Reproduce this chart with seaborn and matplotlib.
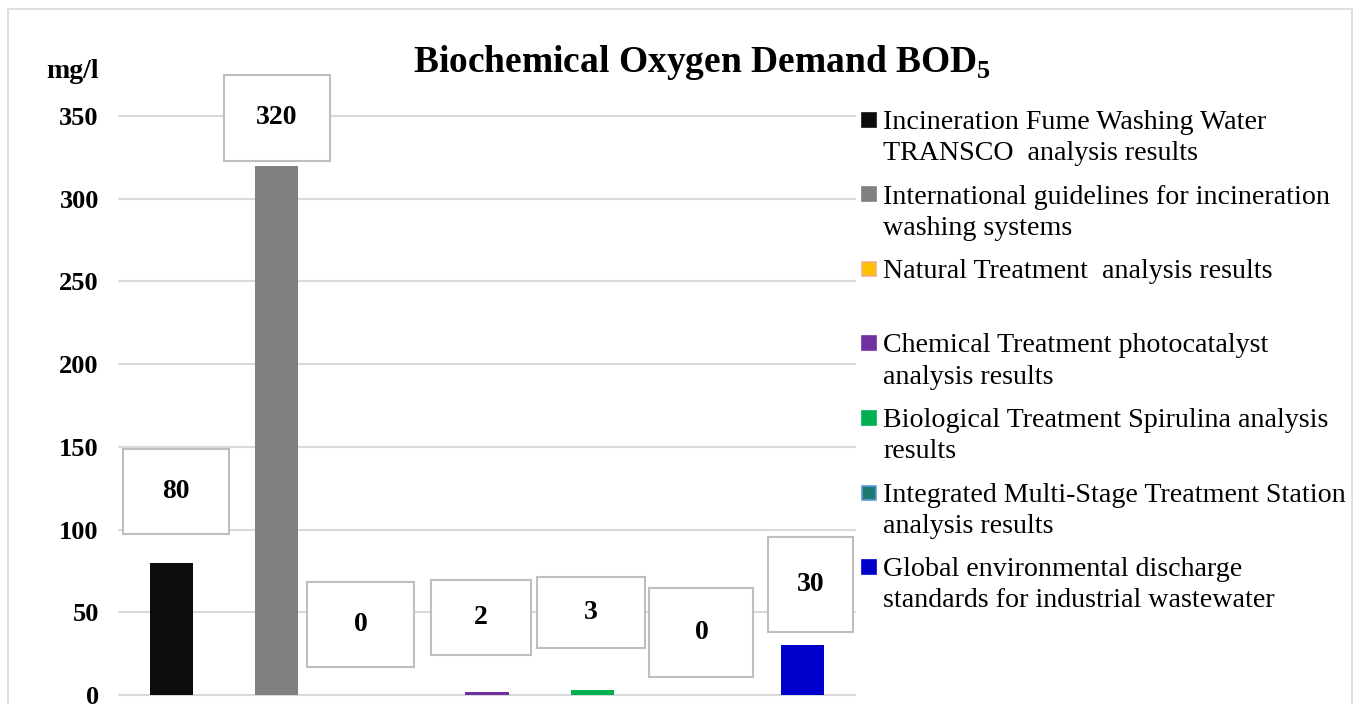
import numpy as np
import pandas as pd
import seaborn as sns
import matplotlib
matplotlib.use("Agg")
import matplotlib.pyplot as plt
from matplotlib.patches import Rectangle
from matplotlib.transforms import ScaledTranslation

# ---------------- data ----------------
categories = [
    "Incineration Fume Washing Water\nTRANSCO  analysis results",
    "International guidelines for incineration\nwashing systems",
    "Natural Treatment  analysis results\n",
    "Chemical Treatment photocatalyst\nanalysis results",
    "Biological Treatment Spirulina analysis\nresults",
    "Integrated Multi-Stage Treatment Station\nanalysis results",
    "Global environmental discharge\nstandards for industrial wastewater",
]
values = [80, 320, 0, 2, 3, 0, 30]
value_labels = ["80", "320", "0", "2", "3", "0", "30"]
y_ticks = [0, 50, 100, 150, 200, 250, 300, 350]
y_unit = "mg/l"
title_main = "Biochemical Oxygen Demand BOD"
title_sub = "5"

# ---------------- styles / positions ----------------
colors = ["#0D0D0D", "#808080", "#FFC000", "#7030A0", "#00B050", "#1E7A70", "#0000CC"]
legend_edges = ["#0D0D0D", "#808080", "#F4B183", "#7030A0", "#00B050", "#5B9BD5", "#0000CC"]
# data-label placement (offset from category index, y in data units) and box sizes (px)
label_dx = [0.04, 0.0, -0.20, -0.06, -0.01, 0.04, 0.08]
label_y = [123.3, 348.8, 42.9, 47.0, 49.6, 37.5, 66.5]
box_w = [106, 106, 107, 100, 108, 104, 85]
box_h = [85, 86, 85, 75, 71, 89, 95]

W, H, DPI = 1357, 704, 100

sns.set_theme(style="white")
plt.rcParams['font.family'] = ['Liberation Serif', 'DejaVu Serif']
plt.rcParams['text.color'] = 'black'
plt.rcParams['ytick.color'] = 'black'
plt.rcParams['mathtext.fontset'] = 'custom'
plt.rcParams['mathtext.rm'] = 'Liberation Serif'
plt.rcParams['mathtext.bf'] = 'Liberation Serif:bold'

fig = plt.figure(figsize=(W / DPI, H / DPI), dpi=DPI)
fig.patch.set_facecolor("white")

# outer chart border
fig.patches.append(Rectangle((8 / W, -0.05), (1352 - 8) / W, 1.05 - 9 / H,
                             transform=fig.transFigure, fill=False,
                             edgecolor="#D9D9D9", linewidth=1.2))

ax = fig.add_axes([119 / W, 9 / H, 736 / W, 579 / H])
df = pd.DataFrame({"cat": categories, "val": values})
sns.barplot(data=df, x="cat", y="val", hue="cat", palette=colors, width=0.41,
            saturation=1, legend=False, linewidth=0, ax=ax, zorder=3)

ax.set_xlim(-0.5, len(categories) - 0.5)
ax.set_ylim(0, 350)
ax.set_yticks(y_ticks)
ax.set_yticklabels([str(t) for t in y_ticks], fontsize=19, fontweight="bold",
                   color="black")
ax.tick_params(axis="y", length=0, pad=14.5)
ax.set_xticks([])
ax.set_xlabel("")
ax.set_ylabel("")
for s in ax.spines.values():
    s.set_visible(False)
ax.yaxis.grid(True, color="#D9D9D9", linewidth=1.5)
ax.set_axisbelow(True)
for gl in ax.get_ygridlines():
    gl.set_clip_on(False)

# data labels with boxes
for i, lab in enumerate(value_labels):
    xc = i + label_dx[i]
    yc = label_y[i]
    tr = fig.dpi_scale_trans + ScaledTranslation(xc, yc, ax.transData)
    ax.add_patch(Rectangle((-box_w[i] / 2 / DPI, -box_h[i] / 2 / DPI),
                           box_w[i] / DPI, box_h[i] / DPI, transform=tr,
                           facecolor="white", edgecolor="#BFBFBF", linewidth=1.5,
                           zorder=5, clip_on=False))
    ax.text(xc, yc, lab, ha="center", va="center", fontsize=20,
            fontweight="bold", zorder=6, clip_on=False, color="black")

# axis unit and title
fig.text(73 / W, 1 - 72 / H, y_unit, ha="center", va="center",
         fontsize=20, fontweight="bold", color="black")
fig.text(702 / W, 1 - 62 / H, title_main + r"$_{\mathbf{" + title_sub + "}}$",
         ha="center", va="center", fontsize=27, fontweight="bold", color="black")

# legend (manual, first-line aligned markers)
leg_y0 = 120
leg_step = 74.5
for i, lab in enumerate(categories):
    yc = leg_y0 + i * leg_step
    fig.patches.append(Rectangle(((862) / W, 1 - (yc + 7) / H), 14 / W, 14 / H,
                                 transform=fig.transFigure, facecolor=colors[i],
                                 edgecolor=legend_edges[i], linewidth=1.2))
    fig.text(883 / W, 1 - (yc - 10) / H, lab, ha="left", va="top",
             fontsize=20.2, linespacing=1.34, color="black")

fig.savefig("out.png", dpi=DPI)
